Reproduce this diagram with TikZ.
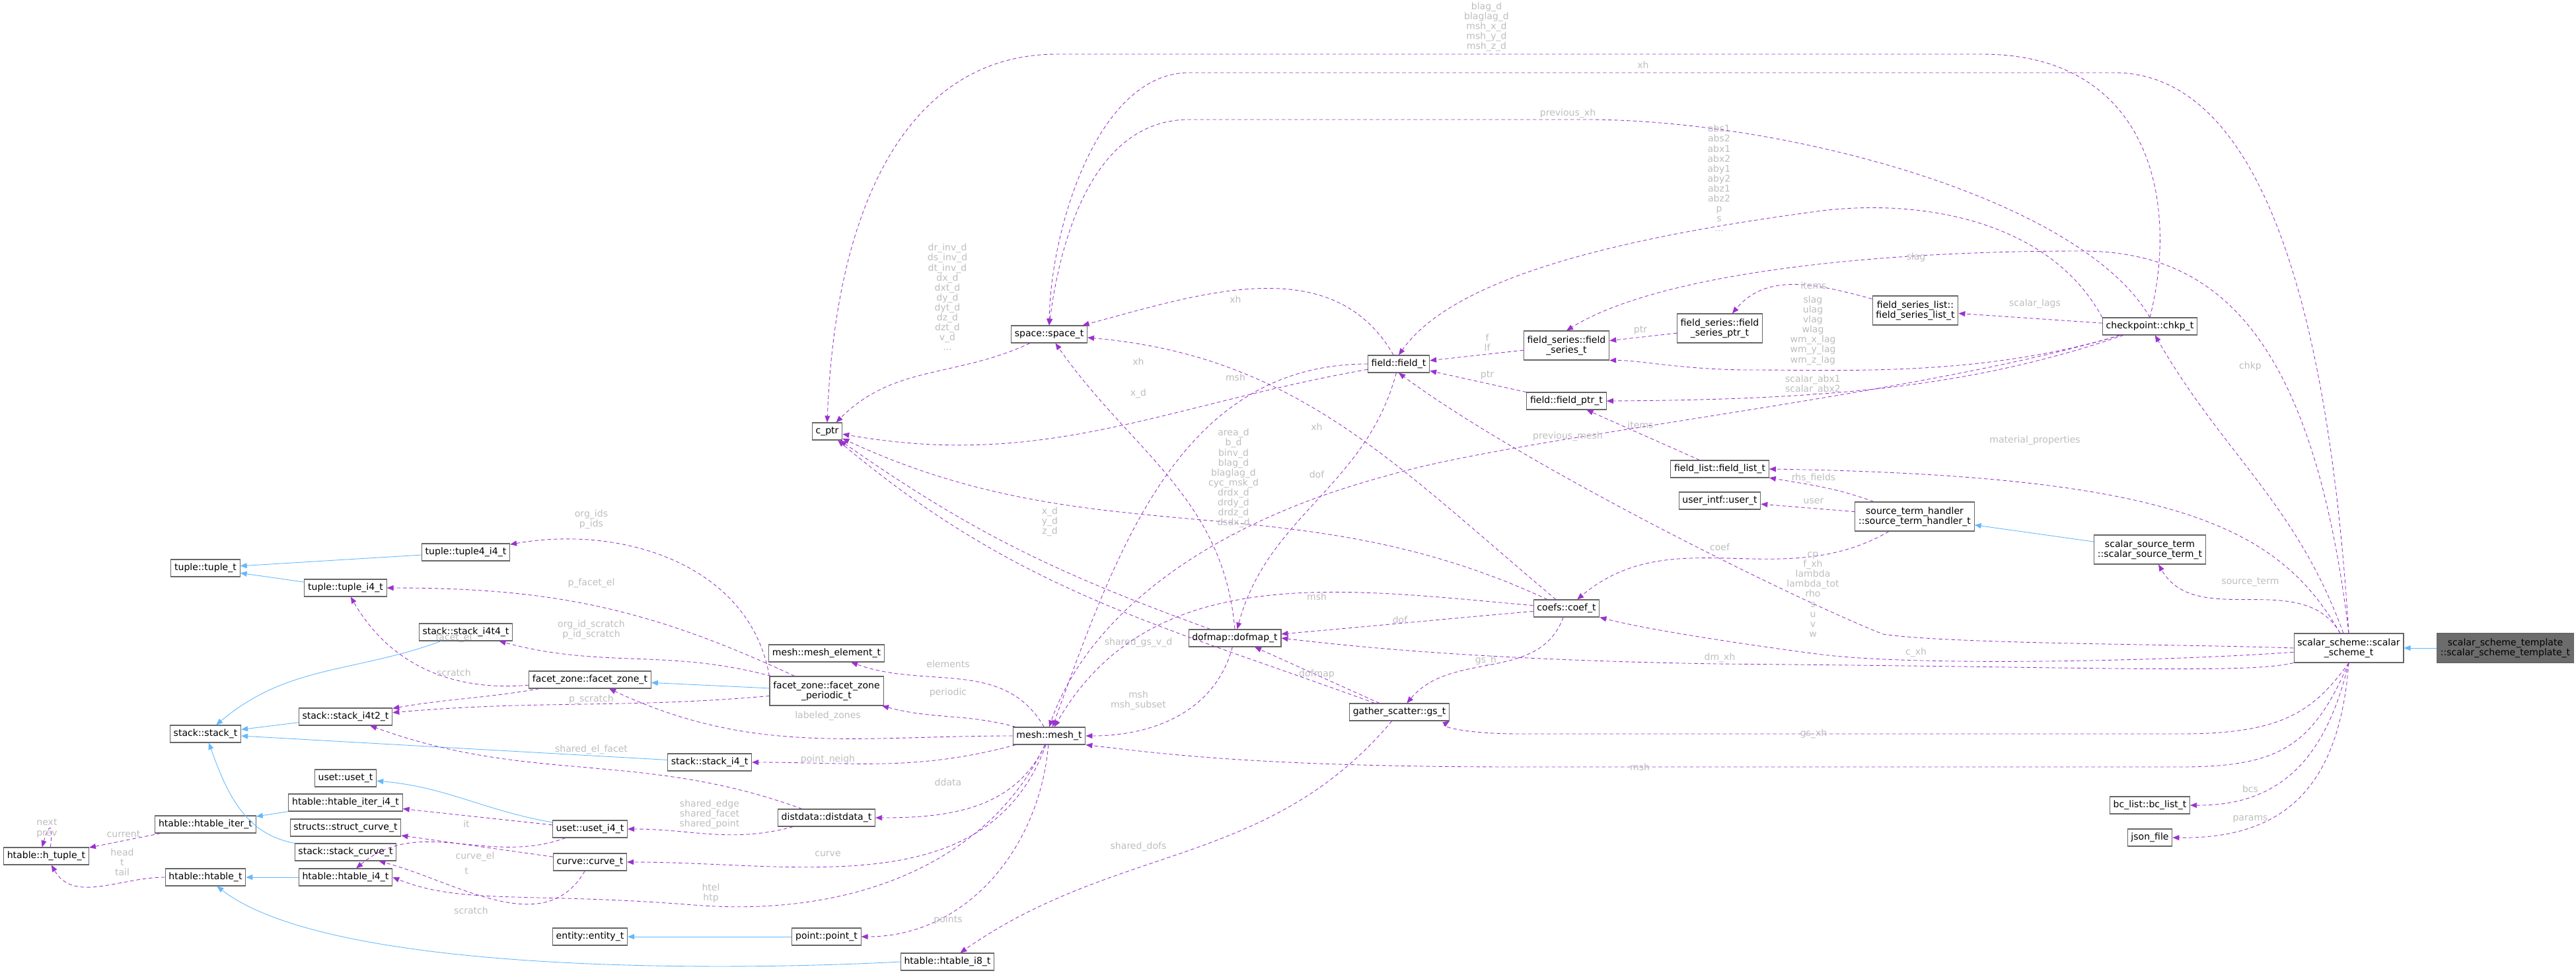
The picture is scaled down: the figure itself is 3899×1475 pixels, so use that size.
\documentclass[tikz,border=0pt]{standalone}
\usepackage{fontspec}
\setmainfont{DejaVu Sans}
\usetikzlibrary{arrows.meta, positioning}
\definecolor{boxgray}{HTML}{666666}
\definecolor{lblgray}{HTML}{BDBDBD}
\definecolor{mempurple}{HTML}{9A32CD}
\definecolor{inhblue}{HTML}{63B8FF}
\tikzset{
	every node/.style={
		align=center,
		font=\fontsize{8}{8.6}\selectfont,
	},
	cls/.style={draw=boxgray, fill=white, line width=0.6pt, minimum height=0.52cm, inner xsep=3pt, inner ysep=1pt},
	cls2/.style={cls, minimum height=0.88cm},
	lbl/.style={text=lblgray, inner sep=0pt},
	mem/.style={draw=mempurple, line width=0.5pt, dash pattern=on 0.11cm off 0.08cm, -{Triangle[length=0.2cm, width=0.16cm]}},
	inh/.style={draw=inhblue, line width=0.5pt, -{Triangle[length=0.2cm, width=0.16cm]}},
}
\begin{document}
\begin{tikzpicture}[x=0.02cm, y=-0.02cm]
        \useasboundingbox (0,0) rectangle (3899,1475);
        % classes
        \node[cls] (tup) at (311,860) {tuple::tuple\_t};
        \node[cls] (tup4) at (705,836) {tuple::tuple4\_i4\_t};
        \node[cls] (tupi4) at (523,890) {tuple::tuple\_i4\_t};
        \node[cls] (sti4t4) at (705,957) {stack::stack\_i4t4\_t};
        \node[cls] (fz) at (893,1029) {facet\_zone::facet\_zone\_t};
        \node[cls] (sti4t2) at (523,1085) {stack::stack\_i4t2\_t};
        \node[cls] (stk) at (311,1111) {stack::stack\_t};
        \node[cls] (uset) at (523,1178) {uset::uset\_t};
        \node[cls] (htii4) at (523,1215) {htable::htable\_iter\_i4\_t};
        \node[cls] (htiter) at (311,1248) {htable::htable\_iter\_t};
        \node[cls] (structcurve) at (523,1253) {structs::struct\_curve\_t};
        \node[cls] (stcurve) at (523,1290) {stack::stack\_curve\_t};
        \node[cls] (htuple) at (70,1296) {htable::h\_tuple\_t};
        \node[cls] (htab) at (311,1328) {htable::htable\_t};
        \node[cls] (hti4) at (523,1328) {htable::htable\_i4\_t};
        \node[cls] (meshel) at (1251,989) {mesh::mesh\_element\_t};
        \node[cls2] (fzp) at (1251,1046) {facet\_zone::facet\_zone\\\_periodic\_t};
        \node[cls] (sti4) at (1074,1154) {stack::stack\_i4\_t};
        \node[cls] (mesh) at (1588,1114) {mesh::mesh\_t};
        \node[cls] (ddata) at (1251,1238) {distdata::distdata\_t};
        \node[cls] (useti4) at (893,1255) {uset::uset\_i4\_t};
        \node[cls] (curve) at (893,1305) {curve::curve\_t};
        \node[cls] (entity) at (893,1418) {entity::entity\_t};
        \node[cls] (point) at (1251,1418) {point::point\_t};
        \node[cls] (hti8) at (1434,1456) {htable::htable\_i8\_t};
        \node[cls] (space) at (1588,506) {space::space\_t};
        \node[cls] (cptr) at (1252,653) {c\_ptr};
        \node[cls] (field) at (2117,551) {field::field\_t};
        \node[cls] (dofmap) at (1869,966) {dofmap::dofmap\_t};
        \node[cls] (gs) at (2118,1078) {gather\_scatter::gs\_t};
        \node[cls2] (fs) at (2371,523) {field\_series::field\\\_series\_t};
        \node[cls2] (fsp) at (2603,497) {field\_series::field\\\_series\_ptr\_t};
        \node[cls2] (fsl) at (2899,470) {field\_series\_list::\\field\_series\_list\_t};
        \node[cls] (fptr) at (2371,607) {field::field\_ptr\_t};
        \node[cls] (flist) at (2603,710) {field\_list::field\_list\_t};
        \node[cls] (chkp) at (3254,494) {checkpoint::chkp\_t};
        \node[cls] (user) at (2603,758) {user\_intf::user\_t};
        \node[cls2] (sth) at (2898,782) {source\_term\_handler\\::source\_term\_handler\_t};
        \node[cls2] (sst) at (3254,832) {scalar\_source\_term\\::scalar\_source\_term\_t};
        \node[cls] (coef) at (2371,921) {coefs::coef\_t};
        \node[cls2] (sch) at (3555,981) {scalar\_scheme::scalar\\\_scheme\_t};
        \node[cls2, fill=gray!85!black] (tmpl) at (3792,981) {scalar\_scheme\_template\\::scalar\_scheme\_template\_t};
        \node[cls] (bcs) at (3254,1219) {bc\_list::bc\_list\_t};
        \node[cls] (json) at (3254,1268) {json\_file};

        % inheritance
        \draw[inh] (tup4) -- (tup);
        \draw[inh] (tupi4) -- (tup);
        \draw[inh] (sti4t4) to[out=200,in=40] (stk);
        \draw[inh] (sti4t2) -- (stk);
        \draw[inh] (sti4) -- (stk);
        \draw[inh] (stcurve) to[out=170,in=-70] (stk);
        \draw[inh] (fzp) -- (fz);
        \draw[inh] (useti4) to[out=170,in=-5] (uset);
        \draw[inh] (htii4) -- (htiter);
        \draw[inh] (hti4) -- (htab);
        \draw[inh] (hti8.west) .. controls (1100,1470) and (500,1475) .. (htab);
        \draw[inh] (point) -- (entity);
        \draw[inh] (sst) -- (sth);
        \draw[inh] (tmpl) -- (sch);

        % members
        \draw[mem] (htuple.65) .. controls +(5,-40) and +(10,-35) .. (htuple.115);
        \node[lbl] (lnext) at (71,1254) {next\\prev};
        \draw[mem] (htiter) -- (htuple);
        \node[lbl] (lcurrent) at (187,1263) {current};
        \draw[mem] (htab) to[out=180,in=-60] (htuple);
        \node[lbl] (lhead) at (185,1305) {head\\t\\tail};
        \draw[mem] (fzp.north west) to[out=100,in=10] (tup4);
        \node[lbl] (lorg) at (895,786) {org\_ids\\p\_ids};
        \draw[mem] (fzp) to[out=155,in=0] (tupi4);
        \node[lbl] (lpfe) at (895,883) {p\_facet\_el};
        \draw[mem] (fz) to[out=185,in=-60] (tupi4);
        \node[lbl] (lfe) at (687,966) {facet\_el};
        \draw[mem] (fzp) to[out=165,in=-15] (sti4t4);
        \node[lbl] (lorgs) at (895,953) {org\_id\_scratch\\p\_id\_scratch};
        \draw[mem] (fz) to[out=190,in=10] (sti4t2);
        \node[lbl] (lscr) at (687,1018) {scratch};
        \draw[mem] (fzp) to[out=185,in=5] (sti4t2);
        \node[lbl] (lpscr) at (895,1059) {p\_scratch};
        \draw[mem] (ddata) to[out=160,in=-20] (sti4t2);
        \node[lbl] (lsef) at (895,1135) {shared\_el\_facet};
        \draw[mem] (useti4) -- (htii4);
        \node[lbl] (lit) at (706,1247) {it};
        \draw[mem] (useti4) to[out=200,in=40] (hti4);
        \node[lbl] (lt) at (706,1319) {t};
        \draw[mem] (curve) -- (structcurve);
        \node[lbl] (lcel) at (719,1297) {curve\_el};
        \draw[mem] (curve) to[out=-120,in=-15] (stcurve);
        \node[lbl] (lscr2) at (713,1378) {scratch};
        \draw[mem] (mesh) .. controls (1500,1300) and (1300,1390) .. (1050,1370) .. controls (800,1350) and (700,1370) .. (hti4.east);
        \node[lbl] (lhtel) at (1076,1352) {htel\\htp};
        \draw[mem] (mesh) to[out=120,in=-20] (meshel);
        \node[lbl] (lel) at (1435,1005) {elements};
        \draw[mem] (mesh) to[out=165,in=-15] (fzp);
        \node[lbl] (lper) at (1435,1049) {periodic};
        \draw[mem] (mesh) to[out=180,in=-25] (fz);
        \node[lbl] (llz) at (1253,1084) {labeled\_zones};
        \draw[mem] (mesh) to[out=195,in=0] (sti4);
        \node[lbl] (lpn) at (1253,1150) {point\_neigh};
        \draw[mem] (mesh) to[out=-115,in=0] (ddata);
        \node[lbl] (ldd) at (1435,1184) {ddata};
        \draw[mem] (mesh) to[out=-110,in=0] (curve);
        \node[lbl] (lcur) at (1253,1293) {curve};
        \draw[mem] (mesh) to[out=-95,in=0] (point);
        \node[lbl] (lpts) at (1435,1393) {points};
        \draw[mem] (ddata) to[out=195,in=0] (useti4);
        \node[lbl] (lshe) at (1074,1233) {shared\_edge\\shared\_facet\\shared\_point};
        \draw[mem] (gs) to[out=-130,in=35] (hti8);
        \node[lbl] (lsd) at (1723,1282) {shared\_dofs};
        \draw[mem] (gs) -- (dofmap);
        \node[lbl] (ldm) at (1993,1021) {dofmap};
        \draw[mem] (gs) to[out=160,in=-40] (cptr);
        \node[lbl] (lsgv) at (1723,973) {shared\_gs\_v\_d};
        \draw[mem] (dofmap) to[out=-105,in=0] (mesh);
        \node[lbl] (lmshs) at (1723,1060) {msh\\msh\_subset};
        \draw[mem] (dofmap) to[out=160,in=-35] (cptr);
        \node[lbl] (lxyz) at (1589,790) {x\_d\\y\_d\\z\_d};
        \draw[mem] (dofmap.north) to[out=95,in=-55] (space);
        \node[lbl] (lxh1) at (1723,547) {xh};
        \draw[mem] (space) to[out=-155,in=45] (cptr);
        \node[lbl] (linv) at (1434,450) {dr\_inv\_d\\ds\_inv\_d\\dt\_inv\_d\\dx\_d\\dxt\_d\\dy\_d\\dyt\_d\\dz\_d\\dzt\_d\\v\_d\\...};
        \draw[mem] (field) to[out=120,in=15] (space);
        \node[lbl] (lxh2) at (1870,453) {xh};
        \draw[mem] (field) to[out=180,in=70] (mesh);
        \node[lbl] (lmsh1) at (1870,571) {msh};
        \draw[mem] (field) to[out=190,in=-10] (cptr);
        \node[lbl] (lxd) at (1723,596) {x\_d};
        \draw[mem] (field) to[out=-105,in=75] (dofmap);
        \node[lbl] (ldof1) at (1993,718) {dof};
        \draw[mem] (coef) to[out=155,in=-25] (cptr);
        \node[lbl] (larea) at (1867,730) {area\_d\\b\_d\\binv\_d\\blag\_d\\blaglag\_d\\cyc\_msk\_d\\drdx\_d\\drdy\_d\\drdz\_d\\dsdx\_d\\...};
        \draw[mem] (coef) to[out=140,in=-5] (space);
        \node[lbl] (lxh3) at (1993,646) {xh};
        \draw[mem] (coef) to[out=175,in=60] (mesh);
        \node[lbl] (lmsh2) at (1993,903) {msh};
        \draw[mem] (coef) to[out=185,in=5] (dofmap);
        \node[lbl] (ldof2) at (2119,938) {dof};
        \draw[mem] (coef) to[out=-110,in=50] (gs);
        \node[lbl] (lgsh) at (2249,1000) {gs\_h};
        \draw[mem] (fs) -- (field);
        \node[lbl] (lflf) at (2251,519) {f\\lf};
        \draw[mem] (fptr) -- (field);
        \node[lbl] (lptr1) at (2251,568) {ptr};
        \draw[mem] (fsp) -- (fs);
        \node[lbl] (lptr2) at (2483,500) {ptr};
        \draw[mem] (fsl) to[out=165,in=50] (fsp);
        \node[lbl] (litems1) at (2745,432) {items};
        \draw[mem] (flist) -- (fptr);
        \node[lbl] (litems2) at (2483,643) {items};
        \draw[mem] (chkp.north west) .. controls (3100,330) and (2900,300) .. (2750,320) .. controls (2450,360) and (2200,420) .. (field.north);
        \node[lbl] (labs) at (2602,270) {abs1\\abs2\\abx1\\abx2\\aby1\\aby2\\abz1\\abz2\\p\\s\\...};
        \draw[mem] (chkp) .. controls (3000,570) and (2800,560) .. (2650,560) .. controls (2550,560) and (2480,545) .. (fs.south east);
        \node[lbl] (lslags) at (2744,500) {slag\\ulag\\vlag\\wlag\\wm\_x\_lag\\wm\_y\_lag\\wm\_z\_lag};
        \draw[mem] (chkp) -- (fsl);
        \node[lbl] (lscl) at (3080,460) {scalar\_lags};
        \draw[mem] (chkp) .. controls (3000,580) and (2800,605) .. (fptr.east);
        \node[lbl] (labx) at (2744,582) {scalar\_abx1\\scalar\_abx2};
        \draw[mem] (chkp) .. controls (2900,600) and (2300,660) .. (2100,720) .. controls (1800,800) and (1640,950) .. (mesh.north);
        \node[lbl] (lpm) at (2373,661) {previous\_mesh};
        \draw[mem] (chkp.north) .. controls (3150,300) and (2700,181) .. (2400,181) -- (1800,181) .. controls (1640,181) and (1600,400) .. (space.north);
        \node[lbl] (lpxh) at (2373,172) {previous\_xh};
        \draw[mem] (chkp.north) .. controls (3300,300) and (3250,82) .. (3000,82) -- (1600,82) .. controls (1380,82) and (1265,300) .. (cptr.north);
        \node[lbl] (lblag) at (2250,41) {blag\_d\\blaglag\_d\\msh\_x\_d\\msh\_y\_d\\msh\_z\_d};
        \draw[mem] (sth) -- (user);
        \node[lbl] (luser) at (2745,759) {user};
        \draw[mem] (sth) to[out=160,in=-10] (flist);
        \node[lbl] (lrhs) at (2745,724) {rhs\_fields};
        \draw[mem] (sth) to[out=-150,in=40] (coef);
        \node[lbl] (lcoef) at (2603,828) {coef};
        \draw[mem] (sch) to[out=110,in=-60] (chkp);
        \node[lbl] (lchkp) at (3406,555) {chkp};
        \draw[mem] (sch) .. controls (3450,800) and (3300,720) .. (flist.east);
        \node[lbl] (lmat) at (3080,667) {material\_properties};
        \draw[mem] (sch) to[out=120,in=-60] (sst);
        \node[lbl] (lst) at (3406,881) {source\_term};
        \draw[mem] (sch.west) .. controls (3300,975) and (2950,975) .. (2850,960) .. controls (2700,900) and (2300,700) .. (field.south);
        \node[lbl] (lcp) at (2744,900) {cp\\f\_xh\\lambda\\lambda\_tot\\rho\\s\\u\\v\\w};
        \draw[mem] (sch) .. controls (3300,1000) and (2900,1010) .. (2750,990) .. controls (2600,970) and (2480,950) .. (coef.south east);
        \node[lbl] (lcxh) at (2900,988) {c\_xh};
        \draw[mem] (sch.south west) .. controls (3400,1020) and (3200,1010) .. (2600,1005) .. controls (2300,1000) and (2100,985) .. (dofmap.east);
        \node[lbl] (ldmxh) at (2603,996) {dm\_xh};
        \draw[mem] (sch.south) .. controls (3500,1080) and (3450,1111) .. (3300,1111) -- (2300,1111) .. controls (2220,1111) and (2180,1100) .. (gs.south east);
        \node[lbl] (lgsxh) at (2745,1111) {gs\_xh};
        \draw[mem] (sch.south) .. controls (3500,1130) and (3450,1161) .. (3300,1161) -- (2300,1161) .. controls (1900,1161) and (1750,1140) .. (mesh.south east);
        \node[lbl] (lmsh3) at (2482,1161) {msh};
        \draw[mem] (sch.south) .. controls (3520,1150) and (3450,1220) .. (bcs.east);
        \node[lbl] (lbcs) at (3406,1194) {bcs};
        \draw[mem] (sch.south) .. controls (3540,1200) and (3450,1270) .. (json.east);
        \node[lbl] (lparams) at (3406,1240) {params};
        \draw[mem] (sch.north) .. controls (3520,400) and (3400,110) .. (3200,110) -- (1800,110) .. controls (1660,110) and (1590,350) .. (space.north);
        \node[lbl] (lxh4) at (2487,98) {xh};
        \draw[mem] (sch.north) .. controls (3500,500) and (3350,380) .. (3150,380) .. controls (2800,380) and (2500,420) .. (fs.north);
        \node[lbl] (lslag) at (2900,390) {slag};
\end{tikzpicture}
\end{document}
